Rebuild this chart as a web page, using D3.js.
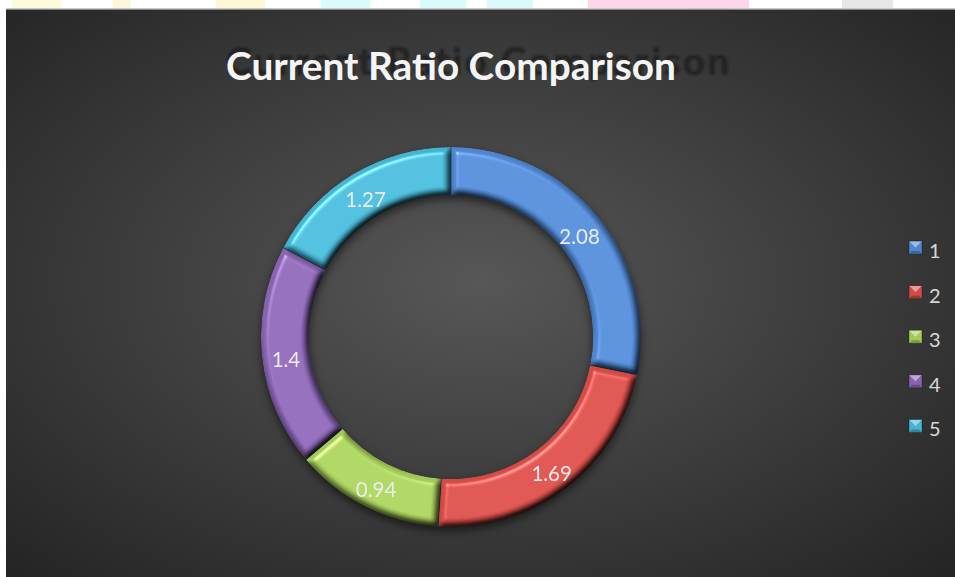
<!DOCTYPE html>
<html>
<head>
<meta charset="utf-8">
<script src="https://cdn.jsdelivr.net/npm/d3@7"></script>
<style>
  body { margin: 0; background: #fff; overflow: hidden; }
  svg { display: block; }
</style>
</head>
<body>
<div id="chart"></div>
<script>
const title = "Current Ratio Comparison";
const categories = ["1", "2", "3", "4", "5"];
const values = [2.08, 1.69, 0.94, 1.4, 1.27];
const colors = ["#4f86cf", "#d24b47", "#a3c958", "#8763b0", "#45b3d1"];

// faint page remnants above the chart area
const stripColors = ["#fdfbdc", "#fdf6d8", "#fdf8d6", "#dafbfb", "#dafbfb", "#dafbfb", "#fdd6ea", "#e6e6e6"];
const stripStarts = [12, 113, 216, 321, 420, 487, 588, 842];
const stripEnds = [61, 131, 265, 370, 466, 533, 749, 893];

drawChart();

function drawChart() {
  const width = 955, height = 577;
  const cx = 451, cy = 337, outerR = 190, innerR = 142;

  const svg = d3.select("#chart").append("svg")
      .attr("width", width)
      .attr("height", height);

  const defs = svg.append("defs");

  const bg = defs.append("radialGradient").attr("id", "bg")
      .attr("cx", "50%").attr("cy", "48%").attr("r", "75%");
  bg.append("stop").attr("offset", "0%").attr("stop-color", "#575757");
  bg.append("stop").attr("offset", "100%").attr("stop-color", "#222222");

  const bevel = defs.append("filter").attr("id", "bevel")
      .attr("color-interpolation-filters", "sRGB")
      .attr("x", "-10%").attr("y", "-10%").attr("width", "120%").attr("height", "120%");
  bevel.append("feGaussianBlur").attr("in", "SourceAlpha").attr("stdDeviation", 3).attr("result", "b");
  const diff = bevel.append("feDiffuseLighting").attr("in", "b").attr("surfaceScale", 5)
      .attr("diffuseConstant", 1.18).attr("lighting-color", "#fff").attr("result", "d");
  diff.append("feDistantLight").attr("azimuth", 235).attr("elevation", 58);
  bevel.append("feComposite").attr("in", "SourceGraphic").attr("in2", "d")
      .attr("operator", "arithmetic").attr("k1", 1).attr("k2", 0).attr("k3", 0).attr("k4", 0).attr("result", "lit");
  const spec = bevel.append("feSpecularLighting").attr("in", "b").attr("surfaceScale", 5)
      .attr("specularConstant", 0.35).attr("specularExponent", 45).attr("lighting-color", "#fff").attr("result", "s");
  spec.append("feDistantLight").attr("azimuth", 235).attr("elevation", 58);
  bevel.append("feComposite").attr("in", "s").attr("in2", "SourceAlpha").attr("operator", "in").attr("result", "s2");
  bevel.append("feComposite").attr("in", "lit").attr("in2", "s2")
      .attr("operator", "arithmetic").attr("k1", 0).attr("k2", 1).attr("k3", 1).attr("k4", 0).attr("result", "out");
  bevel.append("feComposite").attr("in", "out").attr("in2", "SourceAlpha").attr("operator", "in");

  const shadow = defs.append("filter").attr("id", "shadow")
      .attr("color-interpolation-filters", "sRGB")
      .attr("x", "-20%").attr("y", "-20%").attr("width", "140%").attr("height", "140%");
  shadow.append("feDropShadow").attr("dx", 0).attr("dy", 4).attr("stdDeviation", 4)
      .attr("flood-color", "#000").attr("flood-opacity", 0.55);

  const ghostBlur = defs.append("filter").attr("id", "ghost");
  ghostBlur.append("feGaussianBlur").attr("stdDeviation", 0.9);

  // page strip
  svg.selectAll("rect.strip")
    .data(stripStarts)
    .enter()
    .append("rect")
    .attr("class", "strip")
    .attr("x", d => d)
    .attr("y", 0)
    .attr("width", (d, i) => stripEnds[i] - d)
    .attr("height", 9)
    .attr("fill", (d, i) => stripColors[i]);

  svg.append("rect").attr("x", 6).attr("y", 8).attr("width", width - 6).attr("height", 1.5).attr("fill", "#c9c9c9");
  svg.append("rect").attr("x", 6).attr("y", 9.5).attr("width", width - 6).attr("height", height - 9.5).attr("fill", "url(#bg)");

  // title with its ghost
  const ghost = svg.append("text")
      .attr("x", 226).attr("y", 75)
      .attr("font-family", "Lato, 'Open Sans', sans-serif")
      .attr("font-weight", "bold")
      .attr("font-size", 36)
      .attr("fill", "#1c1c1c")
      .attr("fill-opacity", 0.85)
      .attr("filter", "url(#ghost)")
      .text(title);

  const titleText = svg.append("text")
      .attr("x", 451).attr("y", 80)
      .attr("text-anchor", "middle")
      .attr("font-family", "Lato, 'Open Sans', sans-serif")
      .attr("font-weight", "bold")
      .attr("font-size", 36)
      .attr("fill", "#f4f4f4")
      .text(title);

  const tw = titleText.node().getComputedTextLength();
  const fs = 36 * 450 / tw;
  titleText.attr("font-size", fs);
  ghost.attr("font-size", fs);
  const gw = ghost.node().getComputedTextLength();
  ghost.attr("letter-spacing", (504 - gw) / (title.length - 1));

  // donut
  const pie = d3.pie().sort(null).value(d => d);
  const arcs = pie(values);
  const arc = d3.arc().innerRadius(innerR).outerRadius(outerR);

  const ring = svg.append("g")
      .attr("transform", "translate(" + cx + "," + cy + ")")
      .attr("filter", "url(#shadow)");

  ring.selectAll("path")
    .data(arcs)
    .enter()
    .append("path")
    .attr("d", arc)
    .attr("fill", (d, i) => colors[i])
    .attr("filter", "url(#bevel)");

  ring.selectAll("path.sep")
    .data(arcs)
    .enter()
    .append("path")
    .attr("class", "sep")
    .attr("d", d => "M" + d3.pointRadial(d.startAngle, innerR) + "L" + d3.pointRadial(d.startAngle, outerR))
    .attr("stroke", "rgba(20,30,40,0.55)")
    .attr("stroke-width", 1);

  svg.append("g")
    .attr("transform", "translate(" + cx + "," + cy + ")")
    .selectAll("text")
    .data(arcs)
    .enter()
    .append("text")
    .attr("transform", d => "translate(" + arc.centroid(d) + ")")
    .attr("dy", "0.6em")
    .attr("text-anchor", "middle")
    .attr("font-family", "Lato, 'Open Sans', sans-serif")
    .attr("font-size", 20.5)
    .attr("fill", "#ececec")
    .text(d => d.data);

  // legend
  const legend = svg.append("g").selectAll("g")
    .data(categories)
    .enter()
    .append("g")
    .attr("transform", (d, i) => "translate(909," + (241 + i * 44.6) + ")");

  legend.append("rect")
    .attr("width", 13).attr("height", 13)
    .attr("fill", (d, i) => colors[i])
    .attr("stroke", "rgba(0,0,0,0.35)")
    .attr("stroke-width", 0.8);

  legend.append("path")
    .attr("d", "M0.5,0.5L12.5,0.5L6.5,6.5Z")
    .attr("fill", "rgba(255,255,255,0.45)");

  legend.append("path")
    .attr("d", "M0.5,12.5L12.5,12.5L10,10L3,10Z")
    .attr("fill", "rgba(0,0,0,0.25)");

  legend.append("text")
    .attr("x", 20).attr("y", 17)
    .attr("font-family", "Lato, 'Open Sans', sans-serif")
    .attr("font-size", 20)
    .attr("fill", "#d9d9d9")
    .text(d => d);
}
</script>
</body>
</html>
